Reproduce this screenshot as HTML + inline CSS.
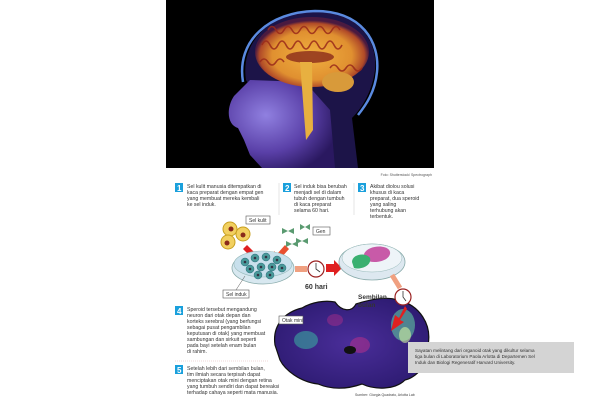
<!DOCTYPE html>
<html><head><meta charset="utf-8"><style>
html,body{margin:0;padding:0;background:#fff;width:600px;height:400px;overflow:hidden}
svg{display:block}
text{font-family:"Liberation Sans",sans-serif}
</style></head><body>
<svg width="600" height="400" viewBox="0 0 600 400">
<defs>
<radialGradient id="br" cx="0.5" cy="0.55" r="0.5">
<stop offset="0" stop-color="#f0b040"/><stop offset="0.7" stop-color="#e09030"/><stop offset="0.92" stop-color="#b04a28"/><stop offset="1" stop-color="#4a1a40"/></radialGradient>
<radialGradient id="face" cx="0.35" cy="0.4" r="0.7">
<stop offset="0" stop-color="#9080e0"/><stop offset="0.6" stop-color="#5a40a8"/><stop offset="1" stop-color="#2a1860"/></radialGradient>
<radialGradient id="org" cx="0.5" cy="0.5" r="0.6">
<stop offset="0" stop-color="#4a2e9a"/><stop offset="1" stop-color="#2c1a70"/></radialGradient>
</defs>
<!-- MRI photo -->
<rect x="166" y="0" width="268" height="168" fill="#000"/>
<path d="M246,80 C240,40 272,12 315,12 C360,12 378,42 375,70 C372,92 362,108 352,118 L358,168 L300,168 Z" fill="#1c1448"/>
<path d="M243,82 C236,40 270,12 315,11 C362,11 380,42 377,72 C375,92 366,105 358,115" fill="none" stroke="#5a8ae0" stroke-width="2.5"/>
<path d="M234,96 C226,108 227,125 238,128 L244,140 L250,155 L262,168 L335,168 L330,110 L305,82 L250,80 Z" fill="url(#face)"/>
<ellipse cx="312" cy="52" rx="57" ry="35" fill="url(#br)"/>
<g fill="none" stroke="#9a2a1a" stroke-width="1.6" opacity="0.85">
<path d="M262,45 q4,-8 8,0 q4,8 8,0 q4,-8 8,0 q4,8 8,0 q4,-8 8,0 q4,8 8,0 q4,-8 8,0 q4,8 8,0 q4,-8 8,0 q4,8 8,0"/>
<path d="M268,30 q4,-7 8,0 q4,7 8,0 q4,-7 8,0 q4,7 8,0 q4,-7 8,0 q4,7 8,0 q4,-7 8,0 q4,7 8,0 q4,-7 8,0"/>
<path d="M260,62 q4,-6 8,0 q4,6 8,0 q4,-6 8,0"/>
<path d="M330,68 q4,-6 8,0 q4,6 8,0 q4,-6 8,0 q4,6 8,0"/>
</g>
<ellipse cx="310" cy="57" rx="24" ry="6" fill="#8a2a1a" opacity="0.8"/>
<path d="M300,62 L312,62 L313,130 L306,140 Z" fill="#e8b040"/>
<ellipse cx="338" cy="82" rx="16" ry="10" fill="#d89a3a"/>
<text x="432" y="176" font-size="3.5" fill="#555" text-anchor="end">Foto: Shutterstock/ Spectrograph</text>

<!-- Step numbers -->
<g font-size="5.2" fill="#333">
<rect x="175" y="183" width="8" height="9" fill="#1aa0dc"/><text x="177" y="191" font-size="8" font-weight="bold" fill="#fff">1</text>
<text x="187" y="188">Sel kulit manusia ditempatkan di</text>
<text x="187" y="194">kaca preparat dengan empat gen</text>
<text x="187" y="200">yang membuat mereka kembali</text>
<text x="187" y="206">ke sel induk.</text>
<rect x="283" y="183" width="8" height="9" fill="#1aa0dc"/><text x="285" y="191" font-size="8" font-weight="bold" fill="#fff">2</text>
<text x="294" y="188">Sel induk bisa berubah</text>
<text x="294" y="194">menjadi sel di dalam</text>
<text x="294" y="200">tubuh dengan tumbuh</text>
<text x="294" y="206">di kaca preparat</text>
<text x="294" y="212">selama 60 hari.</text>
<rect x="358" y="183" width="8" height="9" fill="#1aa0dc"/><text x="360" y="191" font-size="8" font-weight="bold" fill="#fff">3</text>
<text x="370" y="188">Akibat diolou solusi</text>
<text x="370" y="194">khusus di kaca</text>
<text x="370" y="200">preparat, dua speroid</text>
<text x="370" y="206">yang saling</text>
<text x="370" y="212">terhubung akan</text>
<text x="370" y="218">terbentuk.</text>
<rect x="175" y="306" width="8" height="9" fill="#1aa0dc"/><text x="177" y="314" font-size="8" font-weight="bold" fill="#fff">4</text>
<text x="187" y="311">Speroid tersebut mengandung</text>
<text x="187" y="317">neuron dari otak depan dan</text>
<text x="187" y="323">korteks serebral (yang berfungsi</text>
<text x="187" y="329">sebagai pusat pengambilan</text>
<text x="187" y="335">keputusan di otak) yang membuat</text>
<text x="187" y="341">sambungan dan sirkuit seperti</text>
<text x="187" y="347">pada bayi setelah enam bulan</text>
<text x="187" y="353">di rahim.</text>
<rect x="175" y="365" width="8" height="9" fill="#1aa0dc"/><text x="177" y="373" font-size="8" font-weight="bold" fill="#fff">5</text>
<text x="187" y="370">Setelah lebih dari sembilan bulan,</text>
<text x="187" y="376">tim ilmiah secara terpisah dapat</text>
<text x="187" y="382">menciptakan otak mini dengan retina</text>
<text x="187" y="388">yang tumbuh sendiri dan dapat bereaksi</text>
<text x="187" y="394">terhadap cahaya seperti mata manusia.</text>
</g>
<line x1="279" y1="183" x2="279" y2="215" stroke="#ccc" stroke-width="0.5"/>
<line x1="354" y1="183" x2="354" y2="215" stroke="#ccc" stroke-width="0.5"/>
<line x1="175" y1="361" x2="268" y2="361" stroke="#e0b0b0" stroke-width="0.6" stroke-dasharray="1,1"/>

<!-- skin cells -->
<g stroke="#c9a020" stroke-width="1">
<circle cx="230" cy="229" r="7" fill="#f2d060"/><circle cx="243" cy="234" r="7" fill="#f2d060"/><circle cx="228" cy="242" r="7" fill="#f2d060"/>
</g>
<circle cx="231" cy="229" r="2.5" fill="#8a2a1a"/><circle cx="243" cy="235" r="2.5" fill="#8a2a1a"/><circle cx="227" cy="243" r="2.5" fill="#8a2a1a"/>
<rect x="246" y="216" width="24" height="8" fill="#fff" stroke="#555" stroke-width="0.6"/>
<text x="249" y="222" font-size="5" fill="#333">Sel kulit</text>
<path d="M247,245 L256,254 L259,251 L259,262 L249,261 L252,258 L243,249 Z" fill="#e02020"/>
<path d="M285,245 L277,254 L274,251 L274,262 L284,261 L281,258 L289,249 Z" fill="#e85030"/>
<g fill="#5a9a70">
<path d="M282,228 l6,3 l-6,3 z M294,228 l-6,3 l6,3z"/><path d="M296,238 l6,3 l-6,3 z M308,238 l-6,3 l6,3z"/><path d="M286,241 l6,3 l-6,3 z M298,241 l-6,3 l6,3z"/><path d="M300,224 l5,3 l-5,3z M310,224 l-5,3 l5,3z"/>
</g>
<rect x="313" y="227" width="17" height="8" fill="#fff" stroke="#555" stroke-width="0.6"/>
<text x="316" y="233" font-size="5" fill="#333">Gen</text>
<ellipse cx="263" cy="268" rx="31" ry="16" fill="#d8e8f0" stroke="#8aa" stroke-width="0.8"/>
<ellipse cx="263" cy="264" rx="29" ry="13" fill="#c8e0ec" stroke="#9bb" stroke-width="0.6"/>
<g fill="#4a9a9a" stroke="#2a6a7a" stroke-width="0.5">
<circle cx="245" cy="262" r="4"/><circle cx="255" cy="258" r="4"/><circle cx="266" cy="257" r="4"/><circle cx="277" cy="260" r="4"/><circle cx="250" cy="269" r="4"/><circle cx="261" cy="267" r="4"/><circle cx="272" cy="267" r="4"/><circle cx="282" cy="268" r="4"/><circle cx="258" cy="275" r="4"/><circle cx="270" cy="275" r="4"/>
</g>
<g fill="#334"><circle cx="245" cy="262" r="1.3"/><circle cx="255" cy="258" r="1.3"/><circle cx="266" cy="257" r="1.3"/><circle cx="277" cy="260" r="1.3"/><circle cx="250" cy="269" r="1.3"/><circle cx="261" cy="267" r="1.3"/><circle cx="272" cy="267" r="1.3"/><circle cx="282" cy="268" r="1.3"/><circle cx="258" cy="275" r="1.3"/><circle cx="270" cy="275" r="1.3"/></g>
<rect x="223" y="290" width="26" height="8" fill="#fff" stroke="#555" stroke-width="0.6"/>
<text x="226" y="296" font-size="5" fill="#333">Sel induk</text>
<line x1="236" y1="290" x2="245" y2="276" stroke="#555" stroke-width="0.5"/>
<rect x="295" y="266" width="12" height="6" fill="#f0a080"/>
<circle cx="316" cy="269" r="8" fill="#fff" stroke="#9a2020" stroke-width="1.2"/>
<path d="M316,263 L316,269 L320,272" stroke="#333" stroke-width="0.8" fill="none"/>
<path d="M326,264 L334,264 L334,260 L342,268 L334,276 L334,272 L326,272 Z" fill="#e02020"/>
<text x="305" y="289" font-size="7" font-weight="bold" fill="#333">60 hari</text>
<ellipse cx="372" cy="262" rx="33" ry="18" fill="#dde8f0" stroke="#8aa" stroke-width="0.8"/>
<ellipse cx="372" cy="258" rx="30" ry="14" fill="#eef4f8" stroke="#9bb" stroke-width="0.5"/>
<path d="M364,254 C368,244 392,244 390,254 C388,262 372,264 366,260 Z" fill="#c85aa8"/>
<path d="M352,262 C352,254 366,252 370,258 C372,266 360,270 354,268 Z" fill="#3ab070"/>
<path d="M392,275 L400,288" stroke="#f0a080" stroke-width="5"/>
<!-- organoid -->
<path d="M275,345 C272,325 285,312 302,308 C312,302 325,300 335,302 C342,312 352,312 356,304 C368,300 385,296 398,300 C420,305 432,325 428,345 C430,365 415,378 405,380 C395,390 375,390 362,384 C345,390 330,389 318,384 C300,382 285,370 280,360 Z" fill="url(#org)" stroke="#111" stroke-width="1.2"/>
<ellipse cx="306" cy="340" rx="12" ry="9" fill="#3aa8a0" opacity="0.6"/>
<ellipse cx="403" cy="325" rx="12" ry="16" fill="#60c8a0" opacity="0.6"/>
<ellipse cx="405" cy="335" rx="6" ry="8" fill="#d0f0a0" opacity="0.6"/>
<ellipse cx="360" cy="345" rx="10" ry="8" fill="#c0308a" opacity="0.5"/>
<ellipse cx="335" cy="320" rx="8" ry="6" fill="#c0308a" opacity="0.4"/>
<ellipse cx="350" cy="350" rx="6" ry="4" fill="#111"/>
<text x="358" y="299" font-size="6.5" font-weight="bold" fill="#333">Sembilan</text>
<text x="358" y="307" font-size="6.5" font-weight="bold" fill="#333">bulan</text>
<rect x="279" y="316" width="24" height="8" fill="#fff" stroke="#555" stroke-width="0.6"/>
<text x="282" y="322" font-size="5" fill="#333">Otak mini</text>
<circle cx="403" cy="297" r="8" fill="#fff" stroke="#9a2020" stroke-width="1.2"/>
<path d="M403,291 L403,297 L406,301" stroke="#333" stroke-width="0.8" fill="none"/>
<path d="M405,306 L399,318 L395,315 L391,331 L404,322 L400,320 L407,309 Z" fill="#e02020"/>
<text x="355" y="396" font-size="3.5" fill="#444">Sumber: Giorgia Quadrato, Arlotta Lab</text>
<rect x="408" y="342" width="166" height="31" fill="#d4d4d4"/>
<g font-size="4.6" fill="#333">
<text x="415" y="352">Sayatan melintang dari organoid otak yang dikultur selama</text>
<text x="415" y="358">tiga bulan di Laboratorium Paola Arlotta di Departemen Sel</text>
<text x="415" y="364">Induk dan Biologi Regeneratif Harvard University.</text>
</g>
</svg>
</body></html>
